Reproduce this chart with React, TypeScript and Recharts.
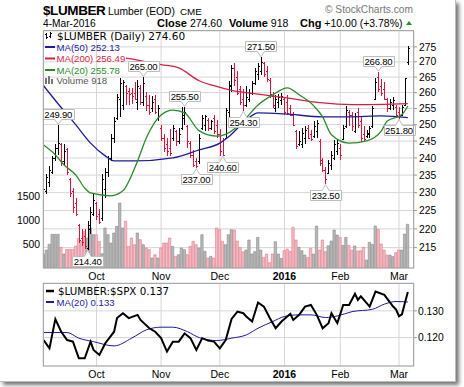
import {
	Bar,
	CartesianGrid,
	Cell,
	ComposedChart,
	Line,
	ReferenceDot,
	XAxis,
	YAxis,
} from "recharts";

const SANS = "'Liberation Sans', Arial, sans-serif";
const WIDE = "'DejaVu Sans', Verdana, sans-serif";
const UP = "#000000";
const DOWN = "#dc143c";
const MA50_COLOR = "#1c1c9a";
const MA200_COLOR = "#d81e46";
const MA20_COLOR = "#2b8a2b";

// daily bars, 4-Sep-2015 .. 4-Mar-2016 (index = trading day)
const highs = [
	232.2, 235.3, 237.5, 240.7, 244, 249.9, 244.5, 244, 243, 234.3, 231.2, 228.6, 221.2, 220, 220, 222.2, 225.9, 229.6, 227.5, 225.5,
	235.3, 237, 240.7, 247.1, 252.2, 259.5, 264.7, 264, 262.5, 261.4, 261.5, 263.5, 264, 262.5, 265, 260.3, 259.2, 259, 259.2, 256,
	250, 247.1, 246, 248.6, 250, 248.5, 249, 255.3, 255.5, 250, 245, 242.2, 240, 247, 252.9, 253, 252, 251.5, 253, 251.5,
	248.6, 246, 255, 263.6, 269.1, 269.7, 267, 262, 261, 262, 261, 263.6, 268, 269.5, 271.5, 270, 268.5, 264.7, 260.3, 259.2,
	259.5, 260, 258.5, 259.2, 256, 254, 248.3, 248, 249, 249.5, 250, 248.5, 251, 251.5, 245.5, 240, 237.2, 239.4, 242, 245.2,
	245.5, 244, 250, 255.7, 254.5, 254, 253.5, 255, 252.2, 249.5, 248.5, 249.5, 255.7, 264.7, 266.8, 264.5, 263.5, 258.3, 258, 258.5,
	256, 255.5, 256, 264.7, 275.2,
];
const lows = [
	226.5, 229.7, 231.5, 235.3, 239, 241, 237.5, 238, 235, 228.7, 224.2, 223.5, 216.2, 215.5, 214.6, 214.4, 218.7, 223.5, 222.5, 221.2,
	222.2, 228.6, 234.5, 239, 244.3, 251.3, 252.2, 254.4, 256, 256.2, 256.5, 257.5, 254.6, 256.2, 255.7, 254.3, 252.9, 254, 253.4, 251,
	245, 241.8, 240.5, 240.5, 245, 243.5, 244, 248.3, 250, 243, 240, 237.2, 237, 238.1, 248.3, 248, 248, 248.5, 247, 246,
	240.5, 240.6, 245.5, 252.2, 260.3, 262, 259.2, 256.2, 254.3, 255.5, 257, 259.2, 262.5, 264, 265.7, 265, 263.5, 258.3, 255.1, 254,
	255, 256, 253, 252.9, 252.5, 249.5, 242.7, 243.5, 243, 244, 245.5, 245, 246, 246, 237.5, 236, 232.5, 235.3, 236.5, 239.4,
	241, 239.5, 245.2, 249, 249.5, 248, 247.5, 249, 244.7, 245, 246, 246, 249, 257.7, 260.3, 259, 257.5, 254, 254.5, 254.5,
	252.5, 251.8, 252.5, 255.7, 269,
];
const opens = [
	227, 230.5, 233, 236, 240, 243, 244, 239, 242.5, 234, 230.5, 227, 221, 217.5, 218, 215, 220, 224, 227, 224,
	223, 231, 236, 240, 246, 252, 258, 256, 262, 260.5, 260, 260, 257, 261.5, 257, 259, 256, 255, 258, 252,
	249, 246, 244, 243, 246, 248, 245, 249, 252, 249.5, 244.5, 241, 239, 239, 249, 250, 251.5, 249, 252, 250,
	247, 245, 246, 254, 262, 268, 265, 261, 258, 256, 258, 260, 263, 266, 267, 269.5, 267, 264, 259, 255,
	257, 257.5, 258, 257, 255, 253, 248, 244, 244, 246, 249, 247, 246.5, 248, 245, 239.5, 236.5, 235.5, 238, 240,
	242, 243, 245.5, 249.5, 254, 253, 248, 254, 251, 247, 246.5, 247, 249.5, 258, 265, 262, 261, 258, 255, 256,
	255.5, 254, 253, 256, 270,
];
const closes = [
	231, 234.5, 236.5, 240, 243, 244.5, 239, 242, 236, 230, 226, 224, 217, 216.5, 215.5, 221, 224.5, 228, 223.5, 222,
	234, 236, 240, 246, 251, 258.5, 263, 263.5, 260, 259.5, 259, 258, 262, 257, 263, 256, 254, 257, 254, 255,
	246, 243, 242, 241.5, 249, 245, 247, 253, 254, 245, 241, 238, 237.5, 246, 252, 252.5, 249, 251, 248, 247,
	242, 241, 254.5, 262.5, 268, 264, 260, 257, 256, 258.5, 260, 263, 267, 268.5, 270, 266, 264.5, 259.5, 256, 258,
	258.5, 259, 254, 253.5, 253, 250, 243.5, 245, 247.5, 248.5, 246, 245.5, 249.5, 250.5, 238.5, 236.5, 234, 238.5, 241, 244,
	244.5, 241, 249, 254.5, 253, 249.5, 252.5, 250, 246, 245.5, 247.5, 249, 255, 263.5, 261, 260, 258, 255, 257, 257.5,
	253, 252.5, 255.5, 264.6, 274.6,
];
const volumes = [
	294, 378, 498, 708, 708, 708, 434, 294, 392, 392, 392, 462, 623, 560, 770, 630, 840, 700, 700, 560,
	300, 840, 700, 525, 735, 875, 1365, 840, 980, 455, 630, 490, 735, 595, 490, 420, 385, 210, 280, 210,
	420, 525, 525, 630, 455, 245, 280, 420, 385, 280, 455, 560, 490, 420, 700, 350, 210, 245, 210, 840,
	805, 560, 490, 700, 805, 798, 567, 427, 338, 378, 588, 294, 343, 644, 378, 224, 294, 112, 294, 553,
	294, 203, 364, 399, 350, 854, 588, 434, 364, 273, 224, 413, 294, 882, 378, 588, 343, 469, 567, 798,
	693, 644, 476, 644, 476, 378, 462, 357, 364, 434, 168, 539, 497, 882, 812, 504, 378, 273, 273, 238,
	322, 378, 378, 714, 918,
];

const monthTicks = [18, 40, 60, 82, 101, 121];
const monthLabels = ["Oct", "Nov", "Dec", "2016", "Feb", "Mar"];
const priceTicks = [215, 220, 225, 230, 235, 240, 245, 250, 255, 260, 265, 270, 275];
const volumeTicks = [500, 1000, 1500];
const ratioTicks = [0.12, 0.13];

// moving averages at sample days
const ma50Idx = [0, 5, 11, 16, 21, 24, 31, 44, 53, 60, 63, 69, 73, 82, 95, 104, 115, 124];
const ma50Val = [262.2, 256.4, 249.9, 244.4, 240.6, 239.1, 239.1, 240.0, 242.4, 244.4, 246.3, 251.4, 253.6, 253.3, 252.4, 252.4, 252.7, 252.13];
const ma200Idx = [28, 32, 40, 46, 53, 58, 64, 73, 82, 94, 105, 116, 124];
const ma200Val = [271.2, 270.6, 269.1, 268.0, 263.8, 262.2, 260.7, 259.5, 258.4, 256.8, 256.2, 256.3, 256.49];
const ma20Idx = [0, 4, 7, 11, 14, 16, 23, 27, 30, 32, 35, 40, 44, 48, 53, 59, 63, 68, 73, 78, 83, 87, 92, 95, 98, 104, 110, 115, 117, 122, 124];
const ma20Val = [243.8, 240.9, 237.9, 235.0, 231.3, 229.9, 229.1, 230.5, 235.0, 239.1, 246.0, 253.0, 254.5, 253.6, 248.1, 246.5, 247.5, 251.1, 256.1, 259.3, 261.5, 259.3, 255.8, 252.4, 246.9, 244.4, 245.1, 248.1, 251.1, 253.1, 255.78];

// $LUMBER:$SPX ratio and its MA(20)
const ratioIdx = [0, 2, 4, 6, 8, 10, 12, 14, 16, 17, 19, 21, 24, 25, 27, 29, 32, 33, 36, 38, 40, 42, 44, 46, 48, 50, 52, 54, 56, 58, 60, 62, 64, 66, 68, 69, 71, 73, 75, 77, 79, 81, 84, 85, 87, 89, 91, 93, 95, 97, 98, 100, 102, 104, 106, 107, 108, 111, 113, 116, 119, 120, 121, 122, 123, 124];
const ratioVal = [0.1191, 0.116, 0.1269, 0.1222, 0.1191, 0.1185, 0.1123, 0.1123, 0.1185, 0.1154, 0.1135, 0.1179, 0.1222, 0.1273, 0.1291, 0.1273, 0.1285, 0.1266, 0.1235, 0.1222, 0.1198, 0.1148, 0.1185, 0.1185, 0.1216, 0.1198, 0.1154, 0.1198, 0.1189, 0.1185, 0.116, 0.1191, 0.127, 0.1297, 0.1291, 0.1279, 0.126, 0.1331, 0.1316, 0.1273, 0.1235, 0.126, 0.1289, 0.1266, 0.1285, 0.1316, 0.1322, 0.1285, 0.1235, 0.1254, 0.1291, 0.1254, 0.1322, 0.1322, 0.1364, 0.1341, 0.1354, 0.1316, 0.1372, 0.136, 0.1316, 0.1305, 0.128, 0.1287, 0.1329, 0.137];
const ratioMaIdx = [0, 8, 12, 17, 24, 30, 35, 40, 44, 49, 53, 59, 64, 69, 73, 78, 82, 87, 91, 96, 100, 105, 112, 116, 120, 124];
const ratioMaVal = [0.1219, 0.1219, 0.1198, 0.1185, 0.1169, 0.1198, 0.1229, 0.1239, 0.1239, 0.1222, 0.12, 0.1189, 0.1198, 0.121, 0.1235, 0.126, 0.1279, 0.1285, 0.1285, 0.1275, 0.1281, 0.1297, 0.1306, 0.1325, 0.1335, 0.1333];

// annotated highs / lows
const tagIdx = [5, 15, 34, 48, 52, 61, 68, 74, 96, 114, 121];
const tagVal = [249.9, 214.4, 265, 255.5, 237, 240.6, 254.3, 271.5, 232.5, 266.8, 251.8];
const tagBelow = [false, true, false, false, true, true, true, false, true, false, true];

const bars = highs.map((high, i) => ({
	i,
	high,
	low: lows[i],
	open: opens[i],
	close: closes[i],
	vol: volumes[i],
	up: i === 0 || closes[i] >= closes[i - 1],
}));
const toSeries = (idx: number[], val: number[]) => idx.map((i, k) => ({ i, v: val[k] }));
const ma50Data = toSeries(ma50Idx, ma50Val);
const ma200Data = toSeries(ma200Idx, ma200Val);
const ma20Data = toSeries(ma20Idx, ma20Val);
const ratioData = toSeries(ratioIdx, ratioVal);
const ratioMaData = toSeries(ratioMaIdx, ratioMaVal);

const X_DOMAIN: [number, number] = [-0.2, 126.1];

function OhlcBar(props: any) {
	const { x, y, width, height, payload } = props;
	if (x == null || y == null || !payload) return null;
	const px = Math.round(x + width / 2);
	const hi = Math.log(payload.high);
	const span = hi - Math.log(payload.low);
	const at = (v: number) => Math.round(y + (height * (hi - Math.log(v))) / span);
	const top = Math.round(y);
	const len = Math.max(1, Math.round(y + height) - top);
	const color = payload.up ? UP : DOWN;
	return (
		<g fill={color} shapeRendering="crispEdges">
			<rect x={px} y={top} width={1} height={len} />
			<rect x={px - 1} y={at(payload.open)} width={1} height={1} />
			<rect x={px + 1} y={at(payload.close)} width={1} height={1} />
		</g>
	);
}

function PriceTag({ cx, cy, value, below }: { cx: number; cy: number; value: number; below: boolean }) {
	const w = 31;
	const h = 10;
	const left = Math.round(cx - w / 2) + 0.5;
	const edge = below ? Math.round(cy + 6) + 0.5 : Math.round(cy - 6) + 0.5;
	const far = below ? edge + h : edge - h;
	const tip = below ? cy + 0.5 : cy - 0.5;
	const d = `M${left},${edge} H${cx - 3.5} L${cx},${tip} L${cx + 3.5},${edge} H${left + w} V${far} H${left} Z`;
	return (
		<g>
			<path d={d} fill="#fff" stroke="#bdbdbd" strokeWidth={1} />
			<text
				x={cx}
				y={below ? edge + 8.3 : edge - 1.8}
				textAnchor="middle"
				fontFamily={SANS}
				fontSize={9.5}
				letterSpacing={-0.2}
				fill="#000"
			>
				{value.toFixed(2)}
			</text>
		</g>
	);
}

function MonthTick(props: any) {
	const { x, y, payload } = props;
	const label = monthLabels[monthTicks.indexOf(payload.value)] ?? "";
	return (
		<text
			x={x}
			y={y + 11.5}
			textAnchor="middle"
			fontFamily={SANS}
			fontSize={10.5}
			fontWeight={label === "2016" ? "bold" : "normal"}
			fill="#000"
		>
			{label}
		</text>
	);
}

function Overlay() {
	return (
		<svg
			width={464}
			height={387}
			style={{ position: "absolute", left: 0, top: 0, pointerEvents: "none" }}
		>
			<text x={43} y={15} fontFamily={SANS} fontSize={13.5} fontWeight="bold" letterSpacing={-0.4}>
				$LUMBER
			</text>
			<text x={108} y={15} fontFamily={SANS} fontSize={10.3}>
				Lumber (EOD)
			</text>
			<text x={180} y={15} fontFamily={SANS} fontSize={9.8}>
				CME
			</text>
			<text x={325} y={13} fontFamily={SANS} fontSize={10.2} fill="#777">
				© StockCharts.com
			</text>
			<text x={43} y={27} fontFamily={SANS} fontSize={10.2}>
				4-Mar-2016
			</text>
			<text x={157} y={27} fontFamily={SANS} fontSize={10.5}>
				<tspan fontWeight="bold" fontSize={11}>Close</tspan> 274.60
			</text>
			<text x={229} y={27} fontFamily={SANS} fontSize={10.5}>
				<tspan fontWeight="bold" fontSize={11}>Volume</tspan> 918
			</text>
			<text x={300} y={27} fontFamily={SANS} fontSize={10.5}>
				<tspan fontWeight="bold" fontSize={11}>Chg</tspan> +10.00 (+3.78%)
			</text>
			<polygon points="406,25 412,25 409,21" fill="#2e8b2e" />

			<rect x={43.5} y={30.5} width={370} height={237.5} fill="none" stroke="#a8a8a8" />
			<rect x={43.5} y={283.5} width={370} height={82.5} fill="none" stroke="#a8a8a8" />

			<g fill="#000" shapeRendering="crispEdges">
				<rect x={46} y={33} width={1} height={6} />
				<rect x={45} y={34} width={1} height={1} />
				<rect x={47} y={37} width={1} height={1} />
				<rect x={50} y={32} width={1} height={6} />
				<rect x={49} y={36} width={1} height={1} />
				<rect x={51} y={33} width={1} height={1} />
			</g>
			<text x={57} y={39.5} fontFamily={WIDE} fontSize={10.5}>
				$LUMBER (Daily) 274.60
			</text>
			<line x1={45} x2={55} y1={47} y2={47} stroke={MA50_COLOR} strokeWidth={2} />
			<text x={56.5} y={50.7} fontFamily={SANS} fontSize={9.6} fill={MA50_COLOR}>
				MA(50) 252.13
			</text>
			<line x1={45} x2={55} y1={58.5} y2={58.5} stroke={MA200_COLOR} strokeWidth={2} />
			<text x={56.5} y={62.3} fontFamily={SANS} fontSize={9.6} fill={MA200_COLOR}>
				MA(200) 256.49
			</text>
			<line x1={45} x2={55} y1={70} y2={70} stroke={MA20_COLOR} strokeWidth={2} />
			<text x={56.5} y={73.6} fontFamily={SANS} fontSize={9.6} fill={MA20_COLOR}>
				MA(20) 255.78
			</text>
			<g fill="#777" shapeRendering="crispEdges">
				<rect x={45} y={78} width={2} height={6} />
				<rect x={48} y={76} width={2} height={8} />
				<rect x={51} y={79} width={2} height={5} />
			</g>
			<text x={56.5} y={83.6} fontFamily={SANS} fontSize={9.6} fill="#555">
				Volume 918
			</text>

			<line x1={46} x2={54} y1={291} y2={291} stroke="#000" strokeWidth={2.5} />
			<text x={58} y={295} fontFamily={WIDE} fontSize={10.3}>
				$LUMBER:$SPX 0.137
			</text>
			<line x1={46} x2={54} y1={302} y2={302} stroke={MA50_COLOR} strokeWidth={2} />
			<text x={56.5} y={305.7} fontFamily={SANS} fontSize={9.6} fill={MA50_COLOR}>
				MA(20) 0.133
			</text>
		</svg>
	);
}

export default function App() {
	return (
		<div
			style={{
				position: "absolute",
				left: 0,
				top: 0,
				width: 464,
				height: 387,
				background: "#fff",
				overflow: "hidden",
			}}
		>
			<div
				style={{
					position: "absolute",
					left: 0,
					top: 0,
					width: 455,
					height: 381,
					background: "#fff",
					borderRight: "1px solid #bbb",
					borderBottom: "1px solid #bbb",
					boxShadow: "3px 3px 4px rgba(0,0,0,0.55)",
				}}
			/>
			<div style={{ position: "absolute", left: 0, top: 0 }}>
				<ComposedChart width={464} height={285} data={bars} margin={{ top: 31, right: 0, bottom: 0, left: 0 }}>
					<CartesianGrid xAxisId="p" yAxisId="price" stroke="#d6d6d6" />
					<XAxis
						xAxisId="p"
						dataKey="i"
						type="number"
						domain={X_DOMAIN}
						allowDataOverflow
						ticks={monthTicks}
						interval={0}
						height={17}
						axisLine={false}
						tickLine={false}
						tickSize={0}
						tickMargin={0}
						tick={<MonthTick />}
					/>
					<XAxis xAxisId="v" dataKey="i" type="number" domain={X_DOMAIN} allowDataOverflow hide />
					<YAxis
						yAxisId="vol"
						orientation="left"
						width={43}
						domain={[0, 4980]}
						allowDataOverflow
						ticks={volumeTicks}
						interval={0}
						axisLine={false}
						tickLine={false}
						tickSize={0}
						tickMargin={3}
						tick={{ fontSize: 10.4, fill: "#000", fontFamily: SANS }}
					/>
					<YAxis
						yAxisId="price"
						orientation="right"
						width={50}
						scale="log"
						domain={[209.7, 280.4]}
						allowDataOverflow
						ticks={priceTicks}
						interval={0}
						axisLine={false}
						tickLine={{ stroke: "#999" }}
						tickSize={3}
						tickMargin={2}
						tick={{ fontSize: 10.3, fill: "#000", fontFamily: SANS }}
					/>
					<Bar xAxisId="v" yAxisId="vol" dataKey="vol" barSize={2.4} isAnimationActive={false}>
						{bars.map((b) => (
							<Cell
								key={`vol-${b.i}`}
								fill={b.up ? "#b8b8b8" : "#f2bcc4"}
								stroke={b.up ? "#8a8a8a" : "#e07a8c"}
								strokeWidth={0.6}
							/>
						))}
					</Bar>
					<Bar
						xAxisId="p"
						yAxisId="price"
						dataKey={(d: any) => [d.low, d.high]}
						barSize={3}
						shape={OhlcBar}
						isAnimationActive={false}
					/>
					<Line xAxisId="p" yAxisId="price" data={ma200Data} dataKey="v" type="monotone" stroke={MA200_COLOR} strokeWidth={1.3} dot={false} isAnimationActive={false} />
					<Line xAxisId="p" yAxisId="price" data={ma50Data} dataKey="v" type="monotone" stroke={MA50_COLOR} strokeWidth={1.3} dot={false} isAnimationActive={false} />
					<Line xAxisId="p" yAxisId="price" data={ma20Data} dataKey="v" type="monotone" stroke={MA20_COLOR} strokeWidth={1.3} dot={false} isAnimationActive={false} />
					{tagIdx.map((idx, k) => (
						<ReferenceDot
							key={`tag-${idx}`}
							xAxisId="p"
							yAxisId="price"
							x={idx}
							y={tagVal[k]}
							ifOverflow="visible"
							shape={(p: any) => <PriceTag cx={p.cx} cy={p.cy} value={tagVal[k]} below={tagBelow[k]} />}
						/>
					))}
				</ComposedChart>
			</div>
			<div style={{ position: "absolute", left: 0, top: 270 }}>
				<ComposedChart width={464} height={112} data={ratioData} margin={{ top: 13, right: 0, bottom: 0, left: 43 }}>
					<CartesianGrid xAxisId="r" yAxisId="ratio" stroke="#d6d6d6" />
					<XAxis
						xAxisId="r"
						dataKey="i"
						type="number"
						domain={X_DOMAIN}
						allowDataOverflow
						ticks={monthTicks}
						interval={0}
						height={16}
						axisLine={false}
						tickLine={false}
						tickSize={0}
						tickMargin={0}
						tick={<MonthTick />}
					/>
					<YAxis
						yAxisId="ratio"
						orientation="right"
						width={50}
						domain={[0.1094, 0.1404]}
						allowDataOverflow
						ticks={ratioTicks}
						interval={0}
						axisLine={false}
						tickLine={{ stroke: "#999" }}
						tickSize={3}
						tickMargin={1}
						tickFormatter={(v: number) => v.toFixed(3)}
						tick={{ fontSize: 10.3, fill: "#000", fontFamily: SANS }}
					/>
					<Line xAxisId="r" yAxisId="ratio" data={ratioMaData} dataKey="v" type="monotone" stroke={MA50_COLOR} strokeWidth={1} dot={false} isAnimationActive={false} />
					<Line xAxisId="r" yAxisId="ratio" dataKey="v" type="linear" stroke="#000" strokeWidth={2} dot={false} isAnimationActive={false} />
				</ComposedChart>
			</div>
			<Overlay />
		</div>
	);
}
